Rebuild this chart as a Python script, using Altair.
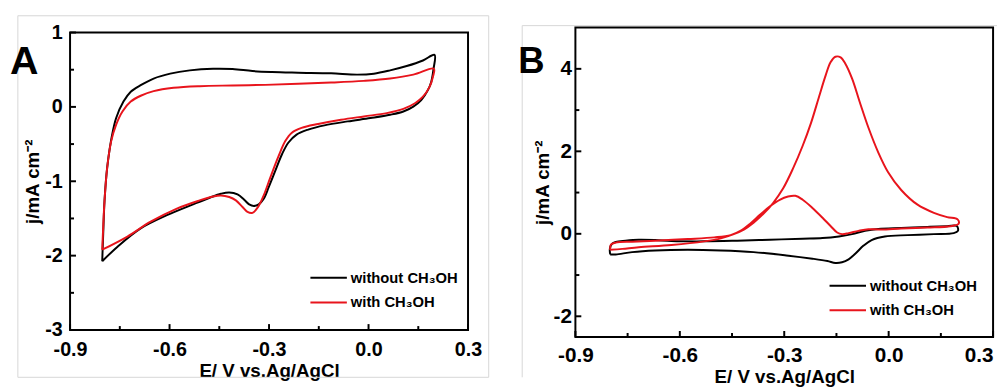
import altair as alt
import pandas as pd

FONT = "Liberation Sans"

# ---------------- data ----------------
series_names = ["without CH₃OH", "with CH₃OH"]
series_colors = ["#000000", "#e8141c"]

# Panel A, without methanol (closed CV loop)
a_wo_E = [-0.803, -0.800, -0.796, -0.788, -0.773, -0.761, -0.739, -0.717, -0.687, -0.648,
          -0.598, -0.539, -0.469, -0.410, -0.350, -0.291, -0.212, -0.113, -0.034, 0.016,
          0.065, 0.115, 0.164, 0.199, 0.196, 0.189, 0.179, 0.159, 0.135, 0.105,
          0.065, 0.006, -0.063, -0.133, -0.182, -0.217, -0.242, -0.261, -0.281, -0.301,
          -0.316, -0.331, -0.346, -0.360, -0.375, -0.395, -0.420, -0.445, -0.479, -0.529,
          -0.608, -0.687, -0.756, -0.803]
a_wo_j = [-2.075, -1.70, -1.257, -0.814, -0.372, -0.150, 0.071, 0.204, 0.292, 0.381,
          0.447, 0.491, 0.513, 0.509, 0.482, 0.469, 0.460, 0.451, 0.434, 0.447,
          0.491, 0.549, 0.624, 0.699, 0.513, 0.336, 0.226, 0.093, 0.004, -0.062,
          -0.106, -0.150, -0.195, -0.248, -0.305, -0.372, -0.482, -0.637, -0.858, -1.080,
          -1.235, -1.310, -1.332, -1.310, -1.248, -1.177, -1.150, -1.168, -1.221, -1.310,
          -1.456, -1.633, -1.876, -2.075]

# Panel A, with methanol
a_w_E = [-0.803, -0.800, -0.796, -0.788, -0.776, -0.761, -0.742, -0.717, -0.687, -0.648,
         -0.588, -0.509, -0.410, -0.311, -0.212, -0.113, -0.014, 0.065, 0.135, 0.197,
         0.194, 0.184, 0.164, 0.140, 0.105, 0.055, -0.014, -0.083, -0.152, -0.202,
         -0.232, -0.251, -0.271, -0.296, -0.316, -0.333, -0.350, -0.365, -0.380, -0.400,
         -0.420, -0.445, -0.469, -0.509, -0.578, -0.657, -0.727, -0.803]
a_w_j = [-1.92, -1.611, -1.257, -0.814, -0.460, -0.239, -0.062, 0.071, 0.150, 0.212,
         0.257, 0.279, 0.288, 0.296, 0.310, 0.327, 0.350, 0.381, 0.434, 0.513,
         0.403, 0.270, 0.137, 0.049, -0.027, -0.084, -0.128, -0.173, -0.230, -0.283,
         -0.350, -0.460, -0.659, -0.947, -1.190, -1.345, -1.425, -1.412, -1.345, -1.257,
         -1.212, -1.190, -1.204, -1.257, -1.367, -1.544, -1.743, -1.92]

# Panel B, without methanol
b_wo_E = [-0.800, -0.801, -0.795, -0.784, -0.756, -0.718, -0.671, -0.624, -0.530, -0.435,
          -0.341, -0.247, -0.190, -0.143, -0.105, -0.068, -0.030, 0.036, 0.111, 0.168,
          0.196, 0.199, 0.187, 0.130, 0.055, -0.011, -0.049, -0.072, -0.096, -0.115,
          -0.134, -0.153, -0.176, -0.219, -0.294, -0.388, -0.482, -0.577, -0.671, -0.737,
          -0.784, -0.800]
b_wo_j = [-0.500, -0.365, -0.246, -0.198, -0.167, -0.143, -0.151, -0.175, -0.183, -0.167,
          -0.143, -0.119, -0.103, -0.063, -0.008, 0.071, 0.119, 0.143, 0.167, 0.183,
          0.190, 0.071, 0.016, -0.008, -0.032, -0.063, -0.151, -0.286, -0.484, -0.619,
          -0.690, -0.706, -0.659, -0.603, -0.524, -0.444, -0.405, -0.389, -0.405, -0.444,
          -0.500, -0.500]

# Panel B, with methanol
b_w_E = [-0.800, -0.765, -0.718, -0.624, -0.530, -0.482, -0.445, -0.416, -0.388, -0.360,
         -0.332, -0.303, -0.275, -0.247, -0.223, -0.200, -0.181, -0.167, -0.153, -0.138,
         -0.124, -0.105, -0.082, -0.058, -0.030, -0.002, 0.036, 0.083, 0.130, 0.168,
         0.198, 0.201, 0.177, 0.111, 0.036, -0.021, -0.058, -0.087, -0.115, -0.134,
         -0.148, -0.167, -0.190, -0.219, -0.247, -0.268, -0.289, -0.313, -0.341, -0.369,
         -0.398, -0.426, -0.454, -0.501, -0.577, -0.671, -0.737, -0.784, -0.798, -0.800]
b_w_j = [-0.389, -0.365, -0.325, -0.270, -0.183, -0.111, -0.008, 0.103, 0.270, 0.484,
         0.746, 1.103, 1.579, 2.135, 2.690, 3.325, 3.841, 4.159, 4.294, 4.278,
         4.119, 3.762, 3.167, 2.571, 1.976, 1.500, 1.063, 0.706, 0.508, 0.405,
         0.349, 0.246, 0.183, 0.151, 0.127, 0.103, 0.111, 0.071, 0.016, -0.008,
         0.032, 0.190, 0.389, 0.627, 0.825, 0.921, 0.905, 0.825, 0.667, 0.468,
         0.246, 0.071, -0.032, -0.087, -0.127, -0.167, -0.190, -0.214, -0.262, -0.389]

x_domain = [-0.9, 0.3]
x_major = [-0.9, -0.6, -0.3, 0.0, 0.3]
x_minor = [-0.75, -0.45, -0.15, 0.15]

a_y_domain = [-3, 1]
a_y_major = [-3, -2, -1, 0, 1]
a_y_minor = [-2.5, -1.5, -0.5, 0.5]

b_y_domain = [-2.5, 5]
b_y_major = [-2, 0, 2, 4]
b_y_minor = [-1, 1, 3]

x_title = "E/ V vs.Ag/AgCl"
y_title = "j/mA cm⁻²"


def curve(Es, js):
    return pd.DataFrame({"E": Es, "j": js, "i": list(range(len(Es)))})


def panel(wo, w, ydom, ymaj, ymin, width, height, frame_top, letter, letter_dx, letter_base,
          letter_size, leg_x, leg_y, grey_left, grey_right, grey_top, grey_bottom, grey_box,
          x_title_pad, last_label_align, label_size, title_size, ylab_pad, ytitle_pad, xlab_pad):
    xs = alt.Scale(domain=x_domain, nice=False, zero=False)
    ys = alt.Scale(domain=ydom, range=[height, frame_top], nice=False, zero=False)
    xax = alt.Axis(values=x_major, ticks=False, domain=False, grid=False,
                   labelExpr="datum.value < 0 ? '-' + format(-datum.value, '.1f') : format(datum.value, '.1f')",
                   labelFont=FONT, labelFontSize=label_size, labelFontWeight="bold", labelColor="black",
                   labelAlign={"condition": {"test": "datum.value > 0.25", "value": last_label_align},
                               "value": "center"},
                   labelPadding=xlab_pad, labelFlush=False, labelOverlap=False,
                   title=x_title, titleFont=FONT, titleFontSize=title_size, titleFontWeight="bold",
                   titleColor="black", titlePadding=x_title_pad)
    yax = alt.Axis(values=ymaj, ticks=False, domain=False, grid=False,
                   labelExpr="datum.value < 0 ? '-' + format(-datum.value, 'd') : format(datum.value, 'd')",
                   labelFont=FONT, labelFontSize=label_size, labelFontWeight="bold", labelColor="black",
                   labelPadding=ylab_pad, labelFlush=False, labelOverlap=False,
                   title=y_title, titleFont=FONT, titleFontSize=title_size, titleFontWeight="bold",
                   titleColor="black", titlePadding=ytitle_pad)

    one = pd.DataFrame({"k": [0]})
    layers = []
    # light grey outer frame of the figure panel
    if grey_box:
        layers.append(alt.Chart(one).mark_rect(fillOpacity=0, stroke="#d6d6d6", strokeWidth=1).encode(
            x=alt.value(grey_left), x2=alt.value(grey_right), y=alt.value(grey_top), y2=alt.value(grey_bottom)))
    else:
        layers.append(alt.Chart(one).mark_rule(stroke="#d6d6d6", strokeWidth=1).encode(
            x=alt.value(grey_left), x2=alt.value(grey_right), y=alt.value(grey_top), y2=alt.value(grey_top)))
        layers.append(alt.Chart(one).mark_rule(stroke="#d6d6d6", strokeWidth=1).encode(
            x=alt.value(grey_left), x2=alt.value(grey_left), y=alt.value(grey_top), y2=alt.value(grey_bottom)))

    for df, col in [(curve(*wo), series_colors[0]), (curve(*w), series_colors[1])]:
        layers.append(alt.Chart(df).mark_line(color=col, strokeWidth=2, interpolate="catmull-rom").encode(
            x=alt.X("E:Q", scale=xs, axis=xax),
            y=alt.Y("j:Q", scale=ys, axis=yax),
            order="i:Q"))

    # black plot frame
    layers.append(alt.Chart(one).mark_rect(fillOpacity=0, stroke="black", strokeWidth=2).encode(
        x=alt.value(0), x2=alt.value(width), y=alt.value(frame_top), y2=alt.value(height)))

    # inward ticks
    for vals, ln in [(x_major, 6), (x_minor, 4)]:
        layers.append(alt.Chart(pd.DataFrame({"E": vals})).mark_rule(color="black", strokeWidth=2).encode(
            x=alt.X("E:Q", scale=xs, axis=xax), y=alt.value(height), y2=alt.value(height - ln)))
    for vals, ln in [(ymaj, 6), (ymin, 4)]:
        layers.append(alt.Chart(pd.DataFrame({"j": vals})).mark_rule(color="black", strokeWidth=2).encode(
            y=alt.Y("j:Q", scale=ys, axis=yax), x=alt.value(0), x2=alt.value(ln)))

    # legend
    for k, (name, col) in enumerate(zip(series_names, series_colors)):
        ldf = pd.DataFrame({"label": [name]})
        yy = leg_y + k * 25
        layers.append(alt.Chart(ldf).mark_rule(color=col, strokeWidth=2).encode(
            x=alt.value(leg_x), x2=alt.value(leg_x + 37), y=alt.value(yy), y2=alt.value(yy)))
        layers.append(alt.Chart(ldf).mark_text(align="left", baseline="middle", font=FONT,
                                               fontSize=15, fontWeight="bold", color="black").encode(
            x=alt.value(leg_x + 41), y=alt.value(yy), text="label:N"))

    # panel letter
    layers.append(alt.Chart(pd.DataFrame({"t": [letter]})).mark_text(
        align="left", baseline="alphabetic", font=FONT, fontSize=letter_size, fontWeight="bold",
        color="black").encode(x=alt.value(letter_dx), y=alt.value(letter_base), text="t:N"))

    return alt.layer(*layers).properties(width=width, height=height)


chart_a = panel((a_wo_E, a_wo_j), (a_w_E, a_w_j), a_y_domain, a_y_major, a_y_minor,
                404, 302, 0, "A", -61, 42, 40, 244, 249,
                -53, 425, -17, 350, True, 2, "center", 20, 19, 8, 2, 10)
chart_b = panel((b_wo_E, b_wo_j), (b_w_E, b_w_j), b_y_domain, b_y_major, b_y_minor,
                424, 309, -5, "B", -58, 41, 37, 258, 257,
                -54, 428, -7, 350, False, 2, "right", 21, 19, 4, 1, 8)

chart = alt.hconcat(chart_a, chart_b, spacing=28).properties(
    padding={"left": 1, "top": 4, "right": 0, "bottom": 0}
).configure_view(stroke="transparent")

chart.save("out.html", embed_options={"renderer": "svg", "actions": False})
